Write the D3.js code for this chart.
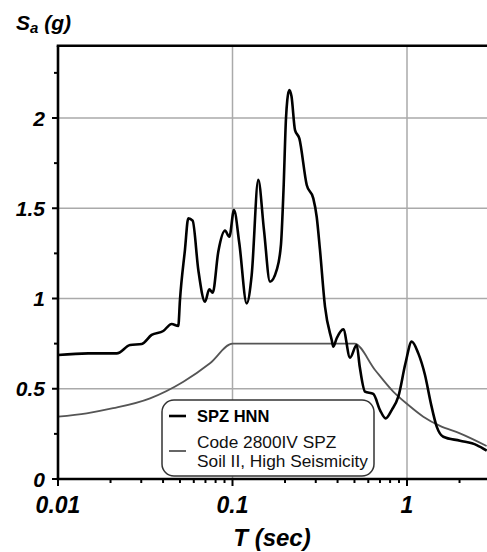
<!DOCTYPE html>
<html>
<head>
<meta charset="utf-8">
<script src="https://cdn.jsdelivr.net/npm/d3@7"></script>
<style>
  body { margin: 0; background: #fff; }
  svg { display: block; font-family: Arial, "Liberation Sans", sans-serif; }
</style>
</head>
<body>
<div id="chart"></div>
<script>
// Recorded spectrum SPZ HNN: period (s) and Sa (g)
const recT = [0.01, 0.0149, 0.0217, 0.0259, 0.0302, 0.0344, 0.0401, 0.0448, 0.0489, 0.0500,
  0.0534, 0.0558, 0.0591, 0.0637, 0.0696, 0.0736, 0.0770, 0.0829, 0.0906, 0.0959, 0.102,
  0.1094, 0.1206, 0.1288, 0.1405, 0.1515, 0.164, 0.1792, 0.1896, 0.196, 0.2026, 0.2061,
  0.2116, 0.2178, 0.2282, 0.2415, 0.2663, 0.2904, 0.3037, 0.3172, 0.3389, 0.3703, 0.3782,
  0.3955, 0.4315, 0.4714, 0.5148, 0.536, 0.5744, 0.641, 0.7003, 0.7549, 0.8173, 0.8916,
  0.98, 1.064, 1.161, 1.268, 1.37, 1.48, 1.614, 2.013, 2.508, 2.862];
const recSa = [0.687, 0.696, 0.696, 0.742, 0.748, 0.798, 0.820, 0.859, 0.848, 0.992,
  1.27, 1.444, 1.431, 1.158, 0.982, 1.051, 1.032, 1.259, 1.376, 1.342, 1.490,
  1.306, 0.973, 1.130, 1.657, 1.379, 1.093, 1.158, 1.30, 1.60, 2.0, 2.10,
  2.155, 2.12, 1.933, 1.887, 1.629, 1.555, 1.453, 1.269, 0.955, 0.770, 0.733,
  0.780, 0.829, 0.672, 0.742, 0.622, 0.484, 0.471, 0.382, 0.336, 0.382, 0.456,
  0.641, 0.761, 0.696, 0.576, 0.419, 0.290, 0.234, 0.212, 0.188, 0.157];

// Design spectrum, Code 2800 IV, soil II, high seismicity
const codeT = [0.01, 0.0146, 0.0207, 0.0337, 0.0523, 0.0743, 0.1, 0.5, 0.656, 0.834, 1.017, 1.24, 1.545, 2.01, 2.86];
const codeSa = [0.345, 0.364, 0.392, 0.447, 0.539, 0.641, 0.75, 0.75, 0.604, 0.484, 0.41, 0.345, 0.294, 0.253, 0.183];

const xMajor = [0.01, 0.1, 1];
const xMajorLabels = ["0.01", "0.1", "1"];
const yMajor = [0, 0.5, 1, 1.5, 2];
const yMajorLabels = ["0", "0.5", "1", "1.5", "2"];
const legendLabels = [["SPZ HNN"], ["Code 2800IV SPZ", "Soil II, High Seismicity"]];

const width = 487, height = 552;
const margin = { left: 58, top: 46, bottom: 73 };
const plotBottom = height - margin.bottom;

const svg = d3.select('#chart').append('svg')
  .attr('width', width)
  .attr('height', height);

const x = d3.scaleLog()
  .domain([0.01, 3])
  .range([margin.left, margin.left + 174.5 * Math.log10(300)]);

const y = d3.scaleLinear()
  .domain([0, 2.4])
  .range([plotBottom, plotBottom - 2.4 * 180.5]);

// grid
const grid = svg.append('g').attr('stroke', '#aaa').attr('stroke-width', 1.5);
grid.selectAll('line.v')
  .data([0.1, 1])
  .enter().append('line')
  .attr('x1', d => x(d)).attr('x2', d => x(d))
  .attr('y1', y(2.4)).attr('y2', y(0));
grid.selectAll('line.h')
  .data([0.5, 1, 1.5, 2])
  .enter().append('line')
  .attr('x1', x(0.01)).attr('x2', width)
  .attr('y1', d => y(d)).attr('y2', d => y(d));

// both spectra share one line generator
const line = d3.line()
  .x(d => x(d[0]))
  .y(d => y(d[1]))
  .curve(d3.curveMonotoneX);

svg.append('path')
  .datum(codeT.map((t, i) => [t, codeSa[i]]))
  .attr('d', line)
  .attr('fill', 'none')
  .attr('stroke', '#555')
  .attr('stroke-width', 1.8);

svg.append('path')
  .datum(recT.map((t, i) => [t, recSa[i]]))
  .attr('d', line)
  .attr('fill', 'none')
  .attr('stroke', '#000')
  .attr('stroke-width', 2.6)
  .attr('stroke-linejoin', 'round');

// frame: left, top, bottom
const frame = svg.append('g').attr('stroke', '#000').attr('stroke-width', 2.6);
frame.append('line').attr('x1', x(0.01)).attr('x2', x(0.01)).attr('y1', y(2.4)).attr('y2', y(0) + 1);
frame.append('line').attr('x1', x(0.01) - 1.3).attr('x2', width).attr('y1', y(2.4)).attr('y2', y(2.4));
frame.append('line').attr('x1', x(0.01) - 1.3).attr('x2', width).attr('y1', y(0)).attr('y2', y(0));

// y ticks
const yTicks = d3.range(0, 2.4, 0.25);
svg.append('g').attr('stroke', '#000').attr('stroke-width', 2)
  .selectAll('line')
  .data(yTicks)
  .enter().append('line')
  .attr('x1', d => x(0.01) - (d % 0.5 === 0 ? 6 : 4))
  .attr('x2', x(0.01))
  .attr('y1', d => y(d)).attr('y2', d => y(d));

svg.append('g')
  .selectAll('text')
  .data(yMajor)
  .enter().append('text')
  .attr('x', x(0.01) - 13)
  .attr('y', d => y(d))
  .attr('dy', '0.36em')
  .attr('text-anchor', 'end')
  .attr('font-size', 21)
  .attr('font-weight', 'bold')
  .attr('font-style', 'italic')
  .text((d, i) => yMajorLabels[i]);

// x ticks, minor every 1..9 per decade
const xMinor = [];
[0.01, 0.1, 1].forEach(dec => {
  for (let k = 1; k <= 9; k++) {
    if (dec * k <= 3) xMinor.push(dec * k);
  }
});
svg.append('g').attr('stroke', '#000').attr('stroke-width', 2)
  .selectAll('line')
  .data(xMinor)
  .enter().append('line')
  .attr('x1', d => x(d)).attr('x2', d => x(d))
  .attr('y1', y(0))
  .attr('y2', (d, i) => y(0) + (i % 9 === 0 ? 7 : 4));

svg.append('g')
  .selectAll('text')
  .data(xMajor)
  .enter().append('text')
  .attr('x', d => x(d))
  .attr('y', y(0) + 34)
  .attr('text-anchor', 'middle')
  .attr('font-size', 23)
  .attr('font-weight', 'bold')
  .attr('font-style', 'italic')
  .text((d, i) => xMajorLabels[i]);

// axis titles
svg.append('text')
  .attr('x', 272)
  .attr('y', 546)
  .attr('text-anchor', 'middle')
  .attr('font-size', 24)
  .attr('font-weight', 'bold')
  .attr('font-style', 'italic')
  .text('T (sec)');

const yTitle = svg.append('text')
  .attr('x', 16)
  .attr('y', 30)
  .attr('font-size', 21)
  .attr('font-weight', 'bold')
  .attr('font-style', 'italic');
yTitle.append('tspan').text('S');
yTitle.append('tspan').attr('font-size', 15).attr('dy', 3).text('a');
yTitle.append('tspan').attr('dy', -3).text(' (g)');

// legend
const legend = svg.append('g').attr('transform', 'translate(162,400)');
legend.append('rect')
  .attr('width', 212).attr('height', 76)
  .attr('rx', 12).attr('ry', 12)
  .attr('fill', '#fff')
  .attr('stroke', '#333')
  .attr('stroke-width', 1.5);

legend.append('line')
  .attr('x1', 7).attr('x2', 24).attr('y1', 16).attr('y2', 16)
  .attr('stroke', '#000').attr('stroke-width', 2.6);
legend.append('text')
  .attr('x', 35).attr('y', 22)
  .attr('font-size', 16.5).attr('font-weight', 'bold')
  .text(legendLabels[0][0]);

legend.append('line')
  .attr('x1', 7).attr('x2', 24).attr('y1', 51).attr('y2', 51)
  .attr('stroke', '#555').attr('stroke-width', 1.8);
legend.selectAll('text.code')
  .data(legendLabels[1])
  .enter().append('text')
  .attr('class', 'code')
  .attr('x', 35)
  .attr('y', (d, i) => 48 + i * 19)
  .attr('font-size', 17.3)
  .attr('fill', '#111')
  .text(d => d);
</script>
</body>
</html>
